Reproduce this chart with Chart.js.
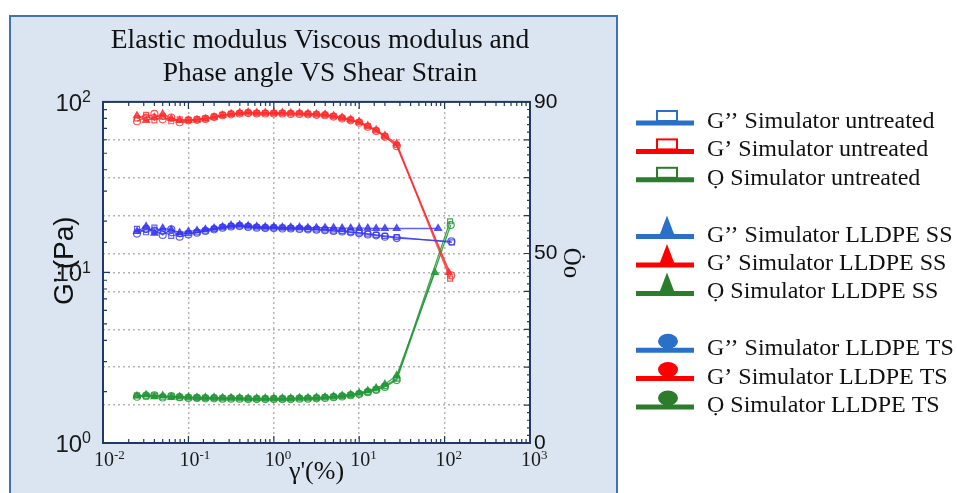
<!DOCTYPE html>
<html>
<head>
<meta charset="utf-8">
<script src="https://cdn.jsdelivr.net/npm/chart.js@4.4.0/dist/chart.umd.min.js"></script>
<style>
html, body { margin: 0; padding: 0; background: #fff; }
</style>
</head>
<body>
<canvas id="myChart" width="957" height="493"></canvas>
<script>
// shear strain (%) shared by the sweep, last point of each run kept apart
var strain = [0.025, 0.032, 0.04, 0.05, 0.063, 0.079, 0.1, 0.126, 0.158, 0.2, 0.251, 0.316, 0.398, 0.501, 0.631, 0.794,
              1.0, 1.26, 1.58, 2.0, 2.51, 3.16, 3.98, 5.01, 6.31, 7.94, 10, 12.6, 15.8, 20, 27.5];
var lastStrainGpp = [122, 84, 120];     // untreated, SS, TS
var lastStrainGp = [116, 112, 119];
var lastStrainTheta = [116, 77, 118];

// G'' (Pa)
var gppUntreated = [18.0, 17.2, 18.3, 17.5, 16.4, 16.8, 17.0, 17.2, 17.6, 18.0, 18.4, 18.7, 18.8, 18.6, 18.4, 18.3,
                    18.3, 18.3, 18.2, 18.1, 18.0, 17.9, 17.8, 17.6, 17.5, 17.3, 17.1, 16.9, 16.6, 16.4, 16.1, 15.0];
var gppSS = [17.4, 18.6, 17.0, 18.2, 17.8, 17.1, 17.4, 17.6, 17.9, 18.2, 18.5, 18.9, 19.0, 18.8, 18.6, 18.5,
             18.5, 18.4, 18.4, 18.4, 18.3, 18.3, 18.3, 18.3, 18.2, 18.2, 18.2, 18.2, 18.1, 18.1, 18.1, 18.1];
var gppTS = [16.9, 18.0, 17.6, 16.6, 17.9, 16.2, 16.7, 17.1, 17.5, 17.9, 18.3, 18.6, 18.7, 18.5, 18.3, 18.2,
             18.2, 18.1, 18.1, 18.0, 17.9, 17.8, 17.7, 17.5, 17.4, 17.2, 17.0, 16.7, 16.5, 16.2, 15.9, 15.2];

// G' (Pa)
var gpUntreated = [80, 84, 78, 82, 77, 79, 78.5, 79, 80, 82, 84, 85, 86, 86.5, 86, 86,
                   86, 86, 85.5, 85.5, 85, 84.5, 84, 82.5, 80.5, 78.5, 76, 72, 68, 63, 56, 9.2];
var gpSS = [83, 78, 81, 85, 80, 78, 78, 78.5, 79.5, 81.5, 83.5, 85, 86.5, 87, 86.5, 86.5,
            86.5, 86.5, 86, 86, 85.5, 85, 84.5, 83, 81, 79, 76.5, 72.5, 68.5, 63.5, 57, 10.0];
var gpTS = [77, 81, 85, 79, 81, 76, 78, 78.5, 79.5, 81.5, 83.5, 84.5, 85.5, 86, 85.5, 85.5,
            85.5, 85.5, 85, 85, 84.5, 84, 83.5, 82, 80, 78, 75.5, 71.5, 67.5, 62.5, 55, 9.6];

// phase angle (deg), right axis
var thetaUntreated = [12.6, 12.3, 12.5, 12.2, 12.3, 12.0, 12.0, 11.9, 11.9, 11.9, 11.8, 11.8, 11.8, 11.7, 11.7, 11.7,
                      11.7, 11.7, 11.7, 11.8, 11.8, 11.9, 12.0, 12.2, 12.4, 12.7, 13.0, 13.5, 14.1, 15.0, 17.0, 58.5];
var thetaSS = [12.4, 12.7, 12.2, 12.5, 12.1, 12.2, 12.1, 12.0, 12.0, 12.0, 11.9, 11.9, 11.9, 11.8, 11.8, 11.8,
               11.8, 11.8, 11.8, 11.9, 11.9, 12.0, 12.1, 12.3, 12.5, 12.8, 13.2, 13.8, 14.5, 15.5, 17.8, 45.0];
var thetaTS = [12.2, 12.5, 12.6, 12.0, 12.4, 12.1, 11.9, 11.9, 11.8, 11.8, 11.7, 11.7, 11.7, 11.6, 11.6, 11.6,
               11.6, 11.6, 11.6, 11.7, 11.7, 11.8, 11.9, 12.1, 12.3, 12.6, 12.9, 13.4, 14.0, 14.8, 16.6, 57.5];

var seriesLabels = [
    'G’’ Simulator untreated', 'G’ Simulator untreated', 'Ọ Simulator untreated',
    'G’’ Simulator LLDPE SS', 'G’ Simulator LLDPE SS', 'Ọ Simulator LLDPE SS',
    'G’’ Simulator LLDPE TS', 'G’ Simulator LLDPE TS', 'Ọ Simulator LLDPE TS'
];

var xTickExponents = [-2, -1, 0, 1, 2, 3];
var yTickExponents = [0, 1, 2];

var BLUE = 'rgba(55,55,240,0.8)', RED = 'rgba(255,45,45,0.8)', GREEN = 'rgba(35,150,55,0.85)';
var LBLUE = '#2a70c8', LRED = '#ff0000', LGREEN = '#2b7d2b';
var SERIF = '"Liberation Serif", "DejaVu Serif", serif';
var SANS = '"Liberation Sans", Arial, sans-serif';

function points(xs, ys) {
    return xs.map(function (x, i) { return { x: x, y: ys[i] }; });
}

function series(i, lastX, ys, color, legendColor, style, axis) {
    var filled = style === 'triangle';
    return {
        label: seriesLabels[i],
        data: points(strain.concat([lastX]), ys),
        yAxisID: axis,
        borderColor: color,
        backgroundColor: filled ? color : 'rgba(255,255,255,0)',
        pointBorderColor: color,
        pointStyle: style,
        pointRadius: filled ? 4 : 3.5,
        pointBorderWidth: 1.2,
        borderWidth: 1.3,
        tension: 0,
        fill: false,
        legendColor: legendColor
    };
}

function isDecade(v) {
    var e = Math.log10(v);
    return Math.abs(e - Math.round(e)) < 1e-6;
}

var panelPlugin = {
    id: 'panel',
    beforeDraw: function (chart) {
        var c = chart.ctx, a = chart.chartArea;
        c.save();
        c.fillStyle = '#fff';
        c.fillRect(0, 0, chart.width, chart.height);
        c.fillStyle = '#dbe5f1';
        c.fillRect(10, 16, 607, 490);
        c.strokeStyle = '#4272b6';
        c.lineWidth = 2;
        c.strokeRect(10, 16, 607, 490);
        c.fillStyle = '#fff';
        c.fillRect(a.left, a.top, a.right - a.left, a.bottom - a.top);
        c.restore();
    }
};

// power-of-ten labels with a real raised exponent
function drawPower(c, exp, x, y, size, family, align) {
    var base = '10', sup = String(exp);
    c.font = size + 'px ' + family;
    var wb = c.measureText(base).width;
    c.font = Math.round(size * 0.66) + 'px ' + family;
    var ws = c.measureText(sup).width;
    var left = align === 'right' ? x - wb - ws : x - wb / 2;
    c.font = size + 'px ' + family;
    c.fillText(base, left, y);
    c.font = Math.round(size * 0.66) + 'px ' + family;
    c.fillText(sup, left + wb, y - size * 0.36);
}

var framePlugin = {
    id: 'frame',
    afterDatasetsDraw: function (chart) {
        var c = chart.ctx, a = chart.chartArea;
        var x = chart.scales.x, y = chart.scales.y, y1 = chart.scales.y1;
        c.save();
        c.strokeStyle = '#1f3864';
        c.lineWidth = 1.2;
        c.beginPath();
        x.ticks.forEach(function (t) {
            var px = x.getPixelForValue(t.value), len = isDecade(t.value) ? 7 : 4;
            c.moveTo(px, a.bottom); c.lineTo(px, a.bottom - len);
            c.moveTo(px, a.top); c.lineTo(px, a.top + len);
        });
        y.ticks.forEach(function (t) {
            var py = y.getPixelForValue(t.value), len = isDecade(t.value) ? 7 : 4;
            c.moveTo(a.left, py); c.lineTo(a.left + len, py);
        });
        for (var d = 0; d <= 90; d += 2) {
            var py1 = y1.getPixelForValue(d);
            c.moveTo(a.right, py1); c.lineTo(a.right - (d % 10 === 0 ? 6 : 3), py1);
        }
        c.stroke();
        c.lineWidth = 2;
        c.strokeRect(a.left, a.top, a.right - a.left, a.bottom - a.top);

        c.fillStyle = '#1a1a1a';
        c.textBaseline = 'alphabetic';
        c.textAlign = 'left';
        xTickExponents.forEach(function (e) {
            drawPower(c, e, x.getPixelForValue(Math.pow(10, e)) + 1, a.bottom + 23, 20, SERIF, 'center');
        });
        yTickExponents.forEach(function (e) {
            drawPower(c, e, a.left - 12, y.getPixelForValue(Math.pow(10, e)) + 9, 24, SANS, 'right');
        });
        c.restore();
    }
};

var legendPlugin = {
    id: 'sideLegend',
    afterDraw: function (chart) {
        var c = chart.ctx;
        c.save();
        chart.data.datasets.forEach(function (ds, i) {
            var base = 128 + 28.4 * (i + Math.floor(i / 3));
            var ly = base - 5, mx = 667;
            c.strokeStyle = ds.legendColor;
            c.fillStyle = ds.legendColor;
            c.lineWidth = 5;
            c.beginPath(); c.moveTo(636, ly); c.lineTo(694, ly); c.stroke();
            if (ds.pointStyle === 'rect') {
                c.lineWidth = 2;
                c.strokeRect(mx - 10, ly - 12, 20, 10);
            } else if (ds.pointStyle === 'triangle') {
                c.beginPath(); c.moveTo(mx, ly - 21); c.lineTo(mx - 8, ly); c.lineTo(mx + 8, ly); c.closePath(); c.fill();
            } else {
                c.beginPath(); c.ellipse(mx + 1, ly - 9, 10, 7.5, 0, 0, Math.PI * 2); c.fill();
                c.fillRect(mx - 4, ly - 4, 10, 4);
            }
            c.fillStyle = '#111';
            c.font = '24px ' + SERIF;
            c.textBaseline = 'alphabetic';
            c.fillText(ds.label, 707, base);
        });
        c.restore();
    }
};

var ctx = document.getElementById('myChart').getContext('2d');
var chart = new Chart(ctx, {
    type: 'line',
    data: {
        datasets: [
            series(0, lastStrainGpp[0], gppUntreated, BLUE, LBLUE, 'rect', 'y'),
            series(1, lastStrainGp[0], gpUntreated, RED, LRED, 'rect', 'y'),
            series(2, lastStrainTheta[0], thetaUntreated, GREEN, LGREEN, 'rect', 'y1'),
            series(3, lastStrainGpp[1], gppSS, BLUE, LBLUE, 'triangle', 'y'),
            series(4, lastStrainGp[1], gpSS, RED, LRED, 'triangle', 'y'),
            series(5, lastStrainTheta[1], thetaSS, GREEN, LGREEN, 'triangle', 'y1'),
            series(6, lastStrainGpp[2], gppTS, BLUE, LBLUE, 'circle', 'y'),
            series(7, lastStrainGp[2], gpTS, RED, LRED, 'circle', 'y'),
            series(8, lastStrainTheta[2], thetaTS, GREEN, LGREEN, 'circle', 'y1')
        ]
    },
    options: {
        responsive: false,
        animation: false,
        layout: { padding: { left: 0, right: 317, top: 0, bottom: 0 } },
        plugins: {
            legend: { display: false },
            tooltip: { enabled: false },
            title: {
                display: true,
                text: ['Elastic modulus Viscous modulus and', 'Phase angle VS Shear Strain'],
                color: '#111',
                font: { family: SERIF, size: 27.5, weight: 'normal', lineHeight: 1.18 },
                padding: { top: 25, bottom: 12 }
            }
        },
        scales: {
            x: {
                type: 'logarithmic',
                min: Math.pow(10, xTickExponents[0]),
                max: Math.pow(10, xTickExponents[xTickExponents.length - 1]),
                afterFit: function (s) { s.height = 50; },
                grid: {
                    color: function (c) {
                        return c.tick && isDecade(c.tick.value) && c.tick.value > 0.011 && c.tick.value < 999 ? '#b5b5b5' : 'rgba(0,0,0,0)';
                    },
                    lineWidth: 1.5,
                    drawTicks: false
                },
                border: { display: false, dash: [2, 3] },
                ticks: { display: false, autoSkip: false },
                title: {
                    display: true, text: 'γ\'(%)', color: '#111',
                    font: { family: SERIF, size: 26 },
                    padding: { top: 0, bottom: 5 }
                }
            },
            y: {
                type: 'logarithmic',
                position: 'left',
                min: Math.pow(10, yTickExponents[0]),
                max: Math.pow(10, yTickExponents[yTickExponents.length - 1]),
                afterFit: function (s) { s.width = 103; },
                grid: {
                    color: function (c) { return c.tick && c.tick.value === 10 ? '#b5b5b5' : 'rgba(0,0,0,0)'; },
                    lineWidth: 1.5,
                    drawTicks: false
                },
                border: { display: false, dash: [2, 3] },
                ticks: { display: false, autoSkip: false },
                title: {
                    display: true, text: '   G’:(Pa)', color: '#111',
                    font: { family: SANS, size: 28 },
                    padding: { top: 48, bottom: 0 }
                }
            },
            y1: {
                type: 'linear',
                position: 'right',
                min: 0, max: 90,
                afterFit: function (s) { s.width = 110; },
                grid: {
                    color: function (c) { return c.tick && c.tick.value > 0 && c.tick.value < 90 ? '#b5b5b5' : 'rgba(0,0,0,0)'; },
                    lineWidth: 1.5,
                    drawTicks: false
                },
                border: { display: false, dash: [2, 3] },
                ticks: {
                    stepSize: 10, padding: 4,
                    color: '#111',
                    font: { family: SANS, size: 21 },
                    callback: function (v) { return (v === 0 || v === 50 || v === 90) ? v : ''; }
                },
                title: {
                    display: true, text: 'Ȯo   ', color: '#111',
                    font: { family: SERIF, size: 25 },
                    padding: { top: 54, bottom: 0 }
                }
            }
        }
    },
    plugins: [panelPlugin, framePlugin, legendPlugin]
});
</script>
</body>
</html>
